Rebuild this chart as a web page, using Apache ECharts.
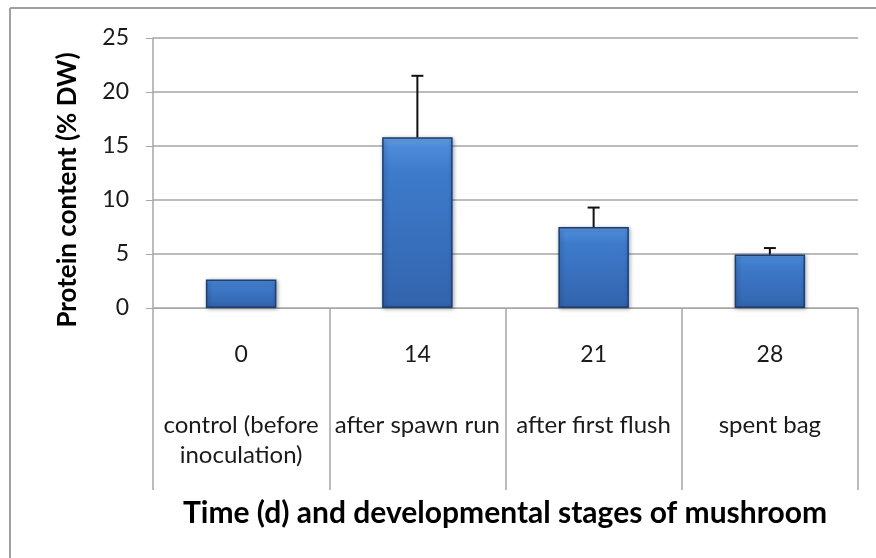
<!DOCTYPE html>
<html>
<head>
<meta charset="utf-8">
<script src="https://cdn.jsdelivr.net/npm/echarts@6/dist/echarts.min.js"></script>
<style>
  html, body { margin: 0; padding: 0; background: #fff; }
  #chart { width: 876px; height: 558px; }
</style>
</head>
<body>
<div id="chart"></div>
<script>
// data
var days = ["0", "14", "21", "28"];
var stages = ["control (before\ninoculation)", "after spawn run", "after first flush", "spent bag"];
var protein = [2.65, 15.8, 7.5, 4.95];
var errUp = [0, 5.7, 1.8, 0.6];
var yTicks = [0, 5, 10, 15, 20, 25];

var font = "Lato, 'Open Sans', sans-serif";
var chart = echarts.init(document.getElementById("chart"));

var barColor = new echarts.graphic.LinearGradient(0, 0, 0, 1, [
  { offset: 0, color: "#6aa7ea" },
  { offset: 0.05, color: "#4e8bd9" },
  { offset: 0.2, color: "#3e7bcb" },
  { offset: 1, color: "#3364ad" }
]);

chart.setOption({
  animation: false,
  grid: { left: 153, right: 18, top: 38, bottom: 250 },
  xAxis: [
    {
      type: "category",
      data: days,
      axisLine: { lineStyle: { color: "#a6a6a6", width: 1 } },
      axisTick: { show: true, length: 182, lineStyle: { color: "#a6a6a6", width: 1.5 } },
      axisLabel: { interval: 0, margin: 35, fontFamily: font, fontSize: 23, color: "#1a1a1a" }
    },
    {
      type: "category",
      data: stages,
      position: "bottom",
      axisLine: { show: false },
      axisTick: { show: false },
      axisLabel: { interval: 0, hideOverlap: false, margin: 102, fontFamily: font, fontSize: 24,
                   lineHeight: 30, color: "#1a1a1a" }
    }
  ],
  yAxis: {
    type: "value",
    min: yTicks[0],
    max: yTicks[yTicks.length - 1],
    interval: 5,
    axisLine: { show: true, lineStyle: { color: "#a6a6a6", width: 1.5 } },
    axisTick: { show: true, length: 7, lineStyle: { color: "#a6a6a6" } },
    splitLine: { lineStyle: { color: "#a6a6a6", width: 1.5 } },
    axisLabel: { margin: 24, fontFamily: font, fontSize: 23, color: "#1a1a1a" }
  },
  graphic: [
    { type: "line", shape: { x1: 10, y1: 8, x2: 876, y2: 8 }, style: { stroke: "#a0a0a0", lineWidth: 2 } },
    { type: "line", shape: { x1: 10, y1: 8, x2: 10, y2: 558 }, style: { stroke: "#a0a0a0", lineWidth: 2 } },
    {
      type: "text", x: 68, y: 190, rotation: Math.PI / 2,
      style: { text: "Protein content (% DW)", fontFamily: font, fontWeight: "bold", fontSize: 26,
               fill: "#000", align: "center", verticalAlign: "middle" }
    },
    {
      type: "text", x: 505, y: 513,
      style: { text: "Time (d) and developmental stages of mushroom", fontFamily: font, fontWeight: "bold",
               fontSize: 30, fill: "#000", align: "center", verticalAlign: "middle" }
    }
  ],
  series: [
    {
      type: "bar",
      data: protein,
      barWidth: "40%",
      itemStyle: {
        color: barColor,
        borderColor: "#1c3f70",
        borderWidth: 1.5,
        shadowBlur: 4,
        shadowColor: "rgba(0,0,0,0.35)",
        shadowOffsetX: 1,
        shadowOffsetY: 1
      },
      z: 2
    },
    {
      type: "custom",
      data: protein.map(function (v, i) { return [i, v, v + errUp[i]]; }),
      renderItem: function (params, api) {
        if (api.value(2) <= api.value(1)) return null;
        var base = api.coord([api.value(0), api.value(1)]);
        var top = api.coord([api.value(0), api.value(2)]);
        var style = { stroke: "#111", lineWidth: 2 };
        return {
          type: "group",
          children: [
            { type: "line", shape: { x1: base[0], y1: base[1], x2: top[0], y2: top[1] }, style: style },
            { type: "line", shape: { x1: top[0] - 6, y1: top[1], x2: top[0] + 6, y2: top[1] }, style: style }
          ]
        };
      },
      z: 3
    }
  ]
});
</script>
</body>
</html>
